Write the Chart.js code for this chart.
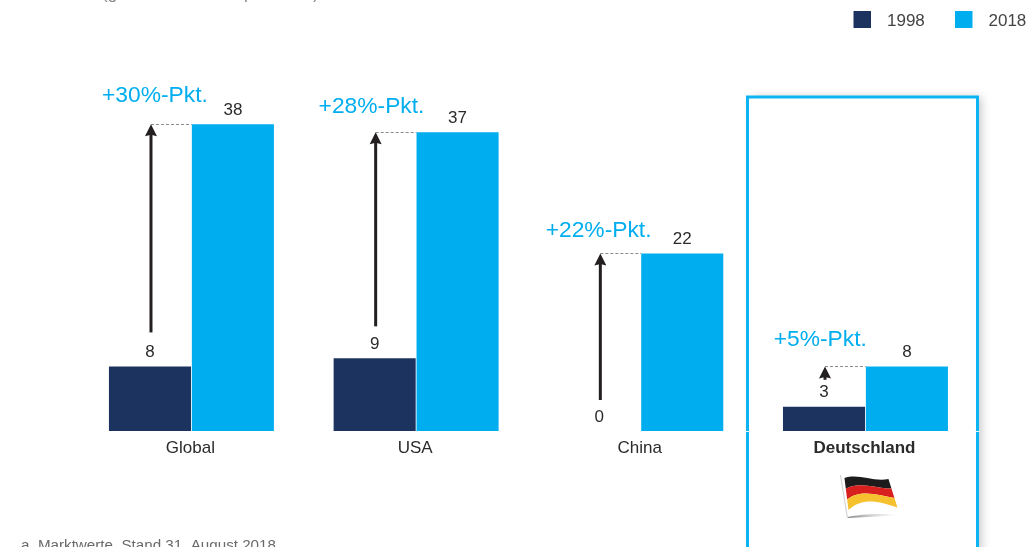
<!DOCTYPE html>
<html lang="de">
<head>
<meta charset="utf-8">
<title>Marktwerte 1998 und 2018</title>
<script src="https://cdn.jsdelivr.net/npm/chart.js@4/dist/chart.umd.js"></script>
<style>
  html, body { margin: 0; padding: 0; background: #fff; overflow: hidden; }
  canvas { display: block; }
</style>
</head>
<body>
<canvas id="marketChart" width="1026" height="547"></canvas>
<script>
const categories = ['Global', 'USA', 'China', 'Deutschland'];
const seriesNames = ['1998', '2018'];
const values1998 = [8, 9, 0, 3];
const values2018 = [38, 37, 22, 8];
const deltaLabels = ['+30%-Pkt.', '+28%-Pkt.', '+22%-Pkt.', '+5%-Pkt.'];
const footnote = 'a. Marktwerte, Stand 31. August 2018';

const DARK = '#1c335f';
const BLUE = '#00aeef';
const INK = '#2b2b2b';
const FONT = '"Liberation Sans", Arial, sans-serif';

// hand placed offsets for the blue labels, [dx from category centre, dy above the bar]
const deltaOffsets = [[-36.5, 29], [-44.6, 26], [-42.2, 23], [-45.2, 27]];
// how far the arrow tail sits above the dark bar
const arrowGaps = [34, 32, 31, 27];

function drawBox(ctx, area) {
  ctx.save();
  ctx.shadowColor = 'rgba(0,0,0,0.22)';
  ctx.shadowBlur = 9;
  ctx.shadowOffsetX = 4;
  ctx.fillStyle = '#fff';
  ctx.fillRect(747.5, 97, 230, 480);
  ctx.restore();
  ctx.save();
  ctx.strokeStyle = '#0db4f3';
  ctx.lineWidth = 3;
  ctx.strokeRect(747.5, 97, 230, 480);
  // axis line shows through the frame as a thin white notch
  ctx.fillStyle = '#e8f7fe';
  ctx.fillRect(745, area.bottom, 5, 1);
  ctx.fillRect(975, area.bottom, 5, 1);
  ctx.restore();
}

function drawArrow(ctx, x, yTop, yBottom) {
  ctx.strokeStyle = '#231f20';
  ctx.fillStyle = '#231f20';
  ctx.lineWidth = 3;
  ctx.beginPath();
  ctx.moveTo(x, yBottom);
  ctx.lineTo(x, yTop + 6);
  ctx.stroke();
  ctx.beginPath();
  ctx.moveTo(x, yTop);
  ctx.lineTo(x + 6, yTop + 12);
  ctx.lineTo(x, yTop + 10.5);
  ctx.lineTo(x - 6, yTop + 12);
  ctx.closePath();
  ctx.fill();
}

function drawFlag(ctx, cx) {
  const ox = cx - 21; // left end of the cloth
  ctx.save();
  // ground shadow
  const g = ctx.createLinearGradient(ox + 3, 0, ox + 56, 0);
  g.addColorStop(0, 'rgba(90,90,90,0.75)');
  g.addColorStop(1, 'rgba(200,200,200,0)');
  ctx.fillStyle = g;
  ctx.beginPath();
  ctx.moveTo(ox + 3, 517);
  ctx.quadraticCurveTo(ox + 25, 512.5, ox + 56, 515);
  ctx.quadraticCurveTo(ox + 25, 517, ox + 3, 518);
  ctx.fill();
  // pole
  ctx.strokeStyle = '#d4d4d4';
  ctx.lineWidth = 1.2;
  ctx.beginPath();
  ctx.moveTo(ox - 4, 475);
  ctx.lineTo(ox + 3, 518);
  ctx.stroke();
  // cloth, three bands laid between a top and a bottom wave
  const bandColors = ['#1d1b1c', '#d8201f', '#f6c12f'];
  const edge = t => {
    const lerp = (a, b) => a + (b - a) * t;
    return [
      [ox + lerp(0, 4), lerp(478, 510)],
      [ox + lerp(14, 18), lerp(473, 497)],
      [ox + lerp(28, 34), lerp(482, 501)],
      [ox + lerp(44, 53), lerp(479, 507.5)]
    ];
  };
  bandColors.forEach((c, i) => {
    const a = edge(i / 3), b = edge((i + 1) / 3);
    ctx.fillStyle = c;
    ctx.beginPath();
    ctx.moveTo(a[0][0], a[0][1]);
    ctx.bezierCurveTo(a[1][0], a[1][1], a[2][0], a[2][1], a[3][0], a[3][1]);
    ctx.lineTo(b[3][0], b[3][1]);
    ctx.bezierCurveTo(b[2][0], b[2][1], b[1][0], b[1][1], b[0][0], b[0][1]);
    ctx.closePath();
    ctx.fill();
  });
  ctx.restore();
}

// frame goes under the axis labels and the bars of the Deutschland column
const framePlugin = {
  id: 'frame',
  beforeDraw(chart) {
    drawBox(chart.ctx, chart.chartArea);
  }
};

const annotationsPlugin = {
  id: 'annotations',
  afterDatasetsDraw(chart) {
    const ctx = chart.ctx;
    const m98 = chart.getDatasetMeta(0).data;
    const m18 = chart.getDatasetMeta(1).data;
    const xScale = chart.scales.x;

    ctx.save();
    ctx.textAlign = 'center';
    ctx.textBaseline = 'middle';

    categories.forEach((name, i) => {
      const low = m98[i], high = m18[i];
      const leftEdge = high.x - high.width / 2;

      // value labels
      ctx.font = '17px ' + FONT;
      ctx.fillStyle = INK;
      ctx.fillText(String(values1998[i]), low.x, low.y - 14);
      ctx.fillText(String(values2018[i]), high.x, high.y - 14);

      // dashed drop from the taller bar to the arrow tip
      ctx.save();
      ctx.strokeStyle = '#8c8c8c';
      ctx.lineWidth = 1;
      ctx.setLineDash([3, 2]);
      ctx.beginPath();
      ctx.moveTo(low.x + 1, Math.round(high.y) + 0.5);
      ctx.lineTo(leftEdge, Math.round(high.y) + 0.5);
      ctx.stroke();
      ctx.restore();

      drawArrow(ctx, low.x + 1, high.y, low.y - arrowGaps[i]);

      // blue delta label
      ctx.font = '22.8px ' + FONT;
      ctx.fillStyle = BLUE;
      ctx.fillText(deltaLabels[i], xScale.getPixelForValue(i) + deltaOffsets[i][0], high.y - deltaOffsets[i][1]);
    });

    // legend, top right
    const legendX = [853.5, 955];
    chart.data.datasets.forEach((ds, i) => {
      ctx.fillStyle = ds.backgroundColor;
      ctx.fillRect(legendX[i], 11, 17.5, 17);
      ctx.fillStyle = '#444';
      ctx.font = '17px ' + FONT;
      ctx.textAlign = 'left';
      ctx.fillText(seriesNames[i], legendX[i] + 33.5, 21);
    });

    // cut-off subtitle at the top edge, only these glyph tails are readable
    ctx.fillStyle = '#8a8a8a';
    ctx.font = '17px ' + FONT;
    ctx.textBaseline = 'alphabetic';
    ctx.fillText('(g', 102, -1);
    ctx.fillText('p', 244, -1);
    ctx.fillText(')', 313, -1);

    // footnote runs off the bottom edge
    ctx.fillStyle = '#6a6a6a';
    ctx.font = '15.2px ' + FONT;
    ctx.fillText(footnote, 21, 550);

    drawFlag(ctx, xScale.getPixelForValue(3));
    ctx.restore();
  }
};

new Chart(document.getElementById('marketChart'), {
  type: 'bar',
  data: {
    labels: categories,
    datasets: [
      { label: seriesNames[0], data: values1998, backgroundColor: DARK },
      { label: seriesNames[1], data: values2018, backgroundColor: BLUE }
    ]
  },
  options: {
    responsive: false,
    animation: false,
    categoryPercentage: 0.738,
    barPercentage: 0.99,
    layout: { padding: { left: 79.1, right: 48.2, top: 27, bottom: 0 } },
    plugins: {
      legend: { display: false },
      tooltip: { enabled: false }
    },
    scales: {
      x: {
        grid: { display: false, drawTicks: false },
        border: { display: false },
        afterFit: axis => { axis.height = 116; },
        ticks: {
          padding: 7,
          labelOffset: -1,
          autoSkip: false,
          maxRotation: 0,
          color: INK,
          font: ctx => ({
            family: FONT,
            size: 17,
            weight: ctx.index === 3 ? 'bold' : 'normal'
          })
        }
      },
      y: { display: false, min: 0, max: 50.05 }
    }
  },
  plugins: [framePlugin, annotationsPlugin]
});
</script>
</body>
</html>
